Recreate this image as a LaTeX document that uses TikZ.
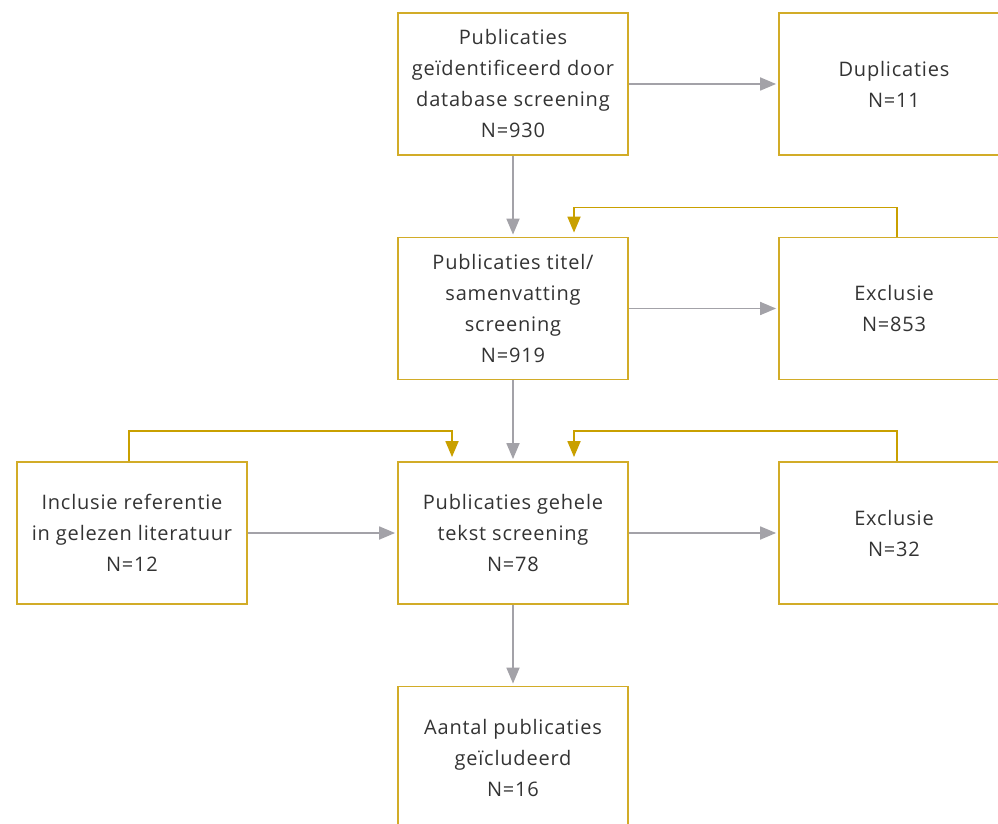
\documentclass[tikz,border=0pt]{standalone}
\usepackage{fontspec}
\setmainfont[LetterSpace=4]{Open Sans}
\usepackage{tikz}
\usetikzlibrary{positioning, arrows.meta}

\definecolor{goldline}{HTML}{D2AC28}
\definecolor{goldtip}{HTML}{C9A000}
\definecolor{greyline}{HTML}{A3A2A8}
\definecolor{textgrey}{HTML}{333333}

\begin{document}
\begin{tikzpicture}[x=1pt, y=1pt,
        box/.style={rectangle, draw=goldline, line width=1.8pt, minimum width=230pt, minimum height=142pt, inner sep=0pt, align=center, text=textgrey, font=\fontsize{20}{31}\selectfont},
        flow/.style={-{Triangle[length=16pt, width=13pt]}, draw=greyline, line width=1.8pt, shorten >=2pt},
        back/.style={-{Triangle[length=16pt, width=13pt]}, draw=goldtip, line width=1.8pt, shorten >=4pt}]
            \useasboundingbox (0,0) rectangle (998,823);
            \node[box] (pub) at (513,739) {Publicaties\\ geïdentificeerd door\\ database screening\\ N=930};
            \node[box, right of=pub, node distance=381pt] (dup) {Duplicaties\\ N=11};
            \node[box, below of=pub, node distance=224.5pt] (titel) {Publicaties titel/\\ samenvatting\\ screening\\ N=919};
            \node[box, right of=titel, node distance=381pt] (excl1) {Exclusie\\ N=853};
            \node[box, below of=titel, node distance=224.5pt] (tekst) {Publicaties gehele\\ tekst screening\\ N=78};
            \node[box, right of=tekst, node distance=381pt] (excl2) {Exclusie\\ N=32};
            \node[box, left of=tekst, node distance=381pt] (incl) {Inclusie referentie\\ in gelezen literatuur\\ N=12};
            \node[box, below of=tekst, node distance=224.5pt] (final) {Aantal publicaties\\ geïcludeerd\\ N=16};

            \draw[flow] (pub) -- (dup);
            \draw[flow] (pub) -- (titel);
            \draw[flow] (titel) -- (excl1);
            \draw[flow] (titel) -- (tekst);
            \draw[flow] (incl) -- (tekst);
            \draw[flow] (tekst) -- (excl2);
            \draw[flow] (tekst) -- (final);

            \draw[back] ([xshift=3pt]excl1.north) -- ++(0,29) -| ([xshift=61pt]titel.north);
            \draw[back] ([xshift=3pt]excl2.north) -- ++(0,30) -| ([xshift=61pt]tekst.north);
            \draw[back] ([xshift=-3pt]incl.north) -- ++(0,30) -| ([xshift=-61pt]tekst.north);
        \end{tikzpicture}
\end{document}
